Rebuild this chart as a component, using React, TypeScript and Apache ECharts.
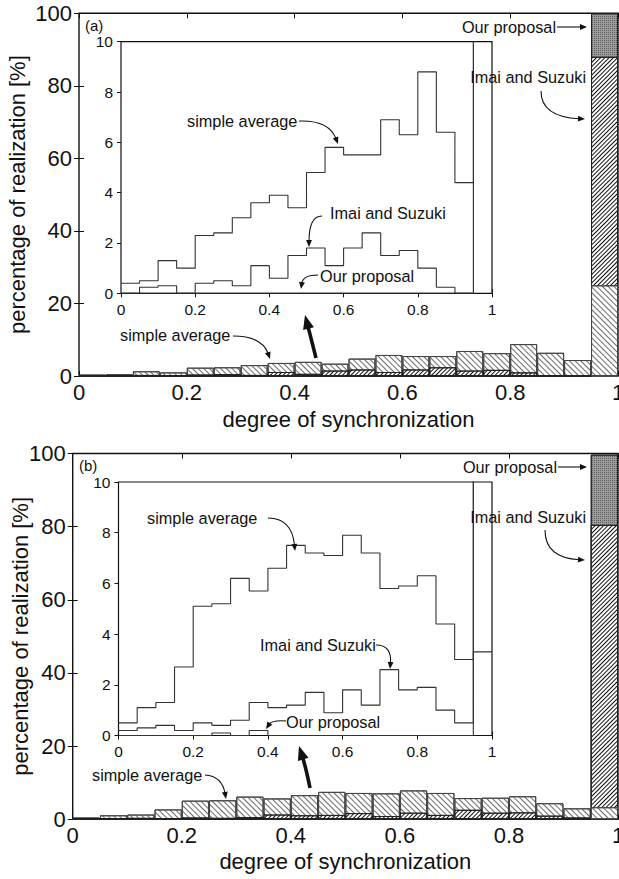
import React, { useEffect, useRef } from "react";
import * as echarts from "echarts";

// ---------------- data ----------------
const binStart = [0, 0.05, 0.1, 0.15, 0.2, 0.25, 0.3, 0.35, 0.4, 0.45, 0.5, 0.55, 0.6, 0.65, 0.7, 0.75, 0.8, 0.85, 0.9, 0.95];
const binEnd = 1;
const xTickInterval = 0.2;
const mainYMax = 100;
const mainYInterval = 20;
const insetYMax = 10;
const insetYInterval = 2;

// panel (a)
const simpleA = [0.4, 0.5, 1.3, 1.0, 2.3, 2.4, 3.0, 3.6, 3.9, 3.4, 4.8, 5.8, 5.5, 5.5, 6.9, 6.3, 8.8, 6.4, 4.4, 25.0];
const imaiA = [0, 0.24, 0.3, 0, 0.4, 0.5, 0.3, 1.1, 0.6, 1.5, 1.8, 1.1, 1.8, 2.4, 1.5, 1.7, 1.0, 0.24, 0, 88.0];
const oursA = [0, 0, 0, 0, 0, 0, 0, 0, 0, 0, 0, 0, 0, 0, 0, 0, 0, 0, 0, 100.0];

// panel (b)
const simpleB = [0.5, 1.1, 1.3, 2.7, 5.1, 5.2, 6.2, 5.7, 6.6, 7.5, 7.2, 7.1, 7.9, 7.2, 5.8, 5.9, 6.3, 4.4, 3.0, 3.3];
const imaiB = [0.2, 0.3, 0.4, 0.2, 0.5, 0.4, 0.6, 1.3, 1.1, 1.2, 1.7, 0.9, 1.8, 1.2, 2.6, 1.8, 1.9, 1.0, 0.5, 80.5];
const oursB = [0, 0, 0, 0, 0, 0.1, 0, 0.2, 0, 0, 0, 0, 0, 0, 0, 0, 0, 0, 0, 99.7];

const xAxisTitle = "degree of synchronization";
const yAxisTitle = "percentage of realization [%]";
const methodNames = { simple: "simple average", imai: "Imai and Suzuki", ours: "Our proposal" };

// ---------------- styles ----------------
const FONT = "'Liberation Sans', Arial, Helvetica, sans-serif";
const INK = "#111";

const METHOD_STYLE: Record<string, any> = {
  simple: {
    color: "#ffffff",
    borderColor: "#444",
    borderWidth: 1,
    decal: {
      symbol: "rect", symbolSize: 1, symbolKeepAspect: false,
      color: "#6a6a6a", backgroundColor: null,
      dashArrayX: [1, 0], dashArrayY: [1, 2.6], rotation: Math.PI / 4,
    },
  },
  imai: {
    color: "#ffffff",
    borderColor: "#222",
    borderWidth: 1,
    decal: {
      symbol: "rect", symbolSize: 1, symbolKeepAspect: false,
      color: "#111", backgroundColor: null,
      dashArrayX: [1, 0], dashArrayY: [1, 1.5], rotation: -Math.PI / 4,
    },
  },
  ours: {
    color: "#9a9a9a",
    borderColor: "#222",
    borderWidth: 1,
    decal: {
      symbol: "rect", symbolSize: 1, symbolKeepAspect: false,
      color: "#626262", backgroundColor: null,
      dashArrayX: [1, 1], dashArrayY: [1, 1], rotation: 0,
    },
  },
};

function layers(simple: number[], imai: number[], ours: number[]) {
  const L: any[][] = [[], [], []];
  binStart.forEach((_, i) => {
    const items = [
      { k: "ours", v: ours[i] },
      { k: "imai", v: imai[i] },
      { k: "simple", v: simple[i] },
    ].sort((a, b) => b.v - a.v);
    items.forEach((it, r) => L[r].push({ value: it.v, name: methodNames[it.k as keyof typeof methodNames], itemStyle: METHOD_STYLE[it.k] }));
  });
  return L;
}

function stepData(vals: number[]) {
  const d = binStart.map((x, i) => [x, vals[i]]);
  d.push([binEnd, vals[vals.length - 1]]);
  return d;
}

function txt(text: string, x: number, y: number, align = "left", size = 16.3) {
  return {
    type: "text", x, y, silent: true, z: 50,
    style: { text, fontSize: size, fontFamily: FONT, fill: INK, textAlign: align, textVerticalAlign: "middle", align, verticalAlign: "middle" },
  };
}

function arrow(x1: number, y1: number, cx: number, cy: number, x2: number, y2: number, lw = 1.1, head = 7, hwr = 0.42) {
  const ang = Math.atan2(y2 - cy, x2 - cx);
  const bx = x2 - head * 0.8 * Math.cos(ang);
  const by = y2 - head * 0.8 * Math.sin(ang);
  const hx = x2 - head * Math.cos(ang);
  const hy = y2 - head * Math.sin(ang);
  const hw = head * hwr;
  const px = -Math.sin(ang) * hw;
  const py = Math.cos(ang) * hw;
  return [
    { type: "bezierCurve", silent: true, z: 50, shape: { x1, y1, x2: bx, y2: by, cpx1: cx, cpy1: cy }, style: { stroke: INK, lineWidth: lw, fill: null } },
    { type: "polygon", silent: true, z: 50, shape: { points: [[x2, y2], [hx + px, hy + py], [hx - px, hy - py]] }, style: { fill: INK, stroke: null } },
  ];
}

const panels = [
  {
    tag: "(a)", simple: simpleA, imai: imaiA, ours: oursA,
    main: { left: 79, top: 13.3, width: 539, height: 362.7 },
    inset: { left: 121, top: 41.7, width: 371, height: 251.6 },
    yNameGap: 51, xNameGap: 32,
  },
  {
    tag: "(b)", simple: simpleB, imai: imaiB, ours: oursB,
    main: { left: 72.7, top: 453.5, width: 545.3, height: 365.8 },
    inset: { left: 118.5, top: 482, width: 373.5, height: 253.5 },
    yNameGap: 41, xNameGap: 31,
  },
];

function buildOption() {
  const grid: any[] = [];
  const xAxis: any[] = [];
  const yAxis: any[] = [];
  const series: any[] = [];

  const tickStyle = (len: number) => ({ show: true, inside: true, length: len, lineStyle: { color: INK, width: 1 } });

  panels.forEach((p) => {
    // ---- main grid ----
    const gMain = grid.length;
    grid.push({ ...p.main, show: true, backgroundColor: "#fff", borderColor: INK, borderWidth: 1.4, containLabel: false, outerBoundsMode: "none", z: 0 });
    const xCat = xAxis.length;
    xAxis.push({ type: "category", gridIndex: gMain, data: binStart.map((b) => String(b)), show: false, boundaryGap: true, position: "bottom" });
    xAxis.push({
      type: "value", gridIndex: gMain, min: 0, max: binEnd, interval: xTickInterval, position: "bottom",
      axisLine: { show: false }, axisTick: tickStyle(5), splitLine: { show: false },
      axisLabel: { show: true, fontSize: 22, fontFamily: FONT, color: INK, margin: 5 },
      name: xAxisTitle, nameLocation: "middle", nameGap: p.xNameGap,
      nameTextStyle: { fontSize: 22, fontFamily: FONT, color: INK },
    });
    xAxis.push({
      type: "value", gridIndex: gMain, min: 0, max: binEnd, interval: xTickInterval, position: "top",
      axisLine: { show: false }, axisTick: tickStyle(5), splitLine: { show: false }, axisLabel: { show: false },
    });
    const yL = yAxis.length;
    yAxis.push({
      type: "value", gridIndex: gMain, min: 0, max: mainYMax, interval: mainYInterval, position: "left",
      axisLine: { show: false }, axisTick: tickStyle(5), splitLine: { show: false },
      axisLabel: { show: true, fontSize: 22, fontFamily: FONT, color: INK, margin: 7 },
      name: yAxisTitle, nameLocation: "middle", nameGap: p.yNameGap, nameMoveOverlap: false,
      nameTextStyle: { fontSize: 22, fontFamily: FONT, color: INK },
    });
    yAxis.push({
      type: "value", gridIndex: gMain, min: 0, max: mainYMax, interval: mainYInterval, position: "right",
      axisLine: { show: false }, axisTick: tickStyle(5), splitLine: { show: false }, axisLabel: { show: false },
    });
    const L = layers(p.simple, p.imai, p.ours);
    L.forEach((data, r) => {
      series.push({
        type: "bar", name: `layer${r}`, xAxisIndex: xCat, yAxisIndex: yL, data,
        barGap: "-100%", barCategoryGap: "0%", z: 2 + r, silent: true,
      });
    });

    // ---- inset grid ----
    const gIn = grid.length;
    grid.push({ ...p.inset, show: true, backgroundColor: "#fff", borderColor: INK, borderWidth: 1.2, containLabel: false, outerBoundsMode: "none", z: 1 });
    const xIn = xAxis.length;
    xAxis.push({
      type: "value", gridIndex: gIn, min: 0, max: binEnd, interval: xTickInterval, position: "bottom",
      axisLine: { show: false }, axisTick: tickStyle(4), splitLine: { show: false },
      axisLabel: { show: true, fontSize: 15.5, fontFamily: FONT, color: INK, margin: 8 },
    });
    xAxis.push({
      type: "value", gridIndex: gIn, min: 0, max: binEnd, interval: xTickInterval, position: "top",
      axisLine: { show: false }, axisTick: tickStyle(4), splitLine: { show: false }, axisLabel: { show: false },
    });
    const yIn = yAxis.length;
    yAxis.push({
      type: "value", gridIndex: gIn, min: 0, max: insetYMax, interval: insetYInterval, position: "left",
      axisLine: { show: false }, axisTick: tickStyle(4), splitLine: { show: false },
      axisLabel: { show: true, fontSize: 15.5, fontFamily: FONT, color: INK, margin: 8 },
    });
    yAxis.push({
      type: "value", gridIndex: gIn, min: 0, max: insetYMax, interval: insetYInterval, position: "right",
      axisLine: { show: false }, axisTick: tickStyle(4), splitLine: { show: false }, axisLabel: { show: false },
    });
    [p.ours, p.imai, p.simple].forEach((vals, k) => {
      series.push({
        type: "line", name: ["ours", "imai", "simple"][k], xAxisIndex: xIn, yAxisIndex: yIn,
        data: stepData(vals), step: "end", symbol: "none", showSymbol: false, clip: true, silent: true,
        lineStyle: { color: "#333", width: 1.1 }, z: 10,
      });
    });
  });

  const graphic: any[] = [
    // panel (a)
    txt("(a)", 85, 25, "left", 15),
    txt(methodNames.ours, 556, 27, "right"),
    ...arrow(557, 27, 571, 27, 587, 27),
    txt(methodNames.imai, 586, 77, "right"),
    ...arrow(541, 91, 541, 117, 585, 119),
    txt(methodNames.simple, 187, 121, "left"),
    ...arrow(299, 121, 329, 120, 338, 144),
    txt(methodNames.imai, 330, 213, "left"),
    ...arrow(322, 216, 309, 216, 309, 247),
    txt(methodNames.ours, 320, 276, "left"),
    ...arrow(318, 275, 303, 275, 301, 289),
    txt(methodNames.simple, 120, 335, "left"),
    ...arrow(233, 336, 262, 336, 270, 359),
    ...arrow(316, 358, 311, 338, 305, 315, 3.6, 14, 0.4),
    // panel (b)
    txt("(b)", 79, 465, "left", 15),
    txt(methodNames.ours, 557, 467, "right"),
    ...arrow(558, 467, 572, 467, 587, 467),
    txt(methodNames.imai, 586, 517, "right"),
    ...arrow(545, 530, 545, 558, 585, 560),
    txt(methodNames.simple, 147, 518, "left"),
    ...arrow(268, 518, 292, 518, 295, 551),
    txt(methodNames.imai, 260, 645, "left"),
    ...arrow(376, 645, 392, 645, 390, 669),
    txt(methodNames.ours, 286, 722, "left"),
    ...arrow(286, 721, 272, 720, 266, 729),
    txt(methodNames.simple, 92, 775, "left"),
    ...arrow(205, 775, 222, 776, 226, 799),
    ...arrow(310, 788, 306, 768, 299, 746, 3.6, 14, 0.4),
  ];

  return {
    animation: false,
    backgroundColor: "#fff",
    textStyle: { fontFamily: FONT },
    grid, xAxis, yAxis, series, graphic,
  };
}

export default function App() {
  const ref = useRef<HTMLDivElement>(null);
  useEffect(() => {
    if (!ref.current) return;
    const chart = echarts.init(ref.current, null, { renderer: "svg" });
    chart.setOption(buildOption() as any);
    return () => chart.dispose();
  }, []);
  return <div ref={ref} style={{ position: "absolute", left: 0, top: 0, width: 619, height: 879, background: "#fff" }} />;
}
